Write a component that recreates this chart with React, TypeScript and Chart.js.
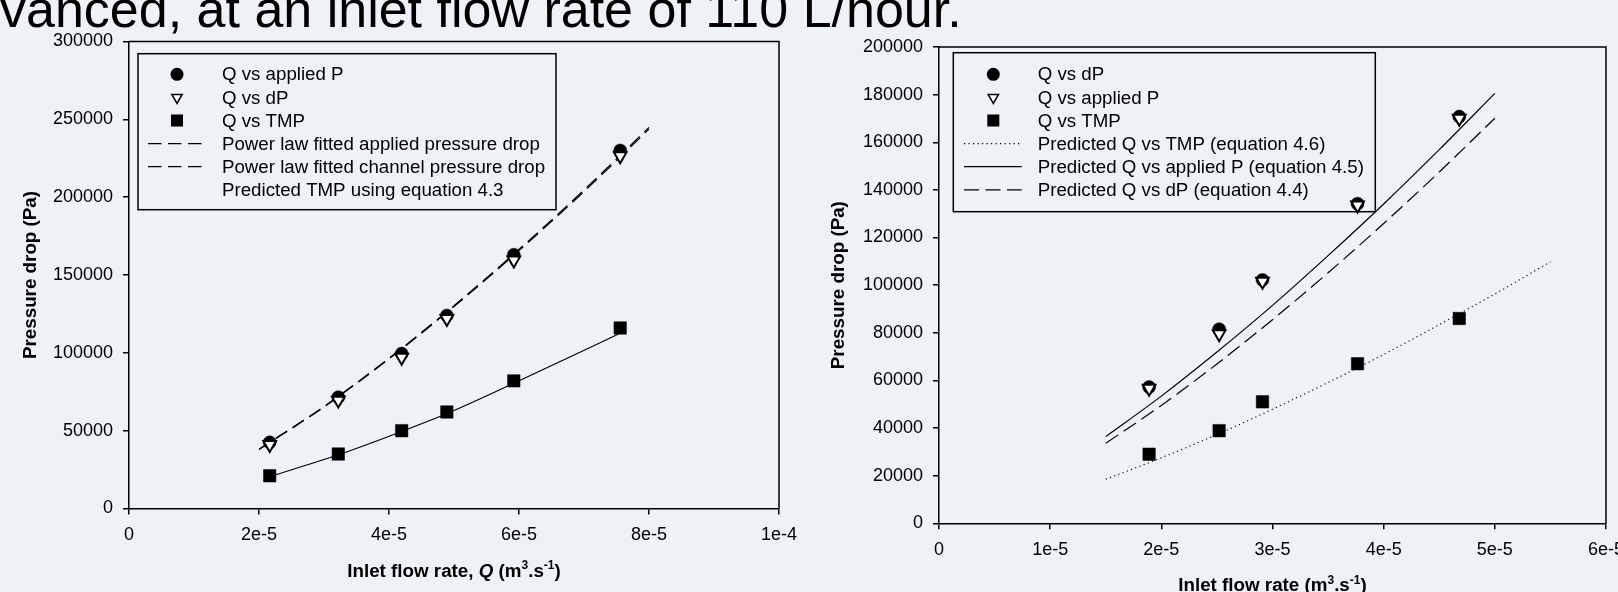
import React, { useEffect, useRef } from 'react';
import { Chart, registerables } from 'chart.js';

Chart.register(...registerables);

const FONT = '"Liberation Sans", Arial, Helvetica, sans-serif';
const BG = '#eef1f6';

// ---------- Heading fragment ----------
const headingText = 'vanced, at an inlet flow rate of 110 L/hour.';

// ---------- Shared ----------
const yAxisTitle = 'Pressure drop (Pa)';

// ---------- Left chart data ----------
const leftQ = [2.165e-5, 3.22e-5, 4.195e-5, 4.89e-5, 5.92e-5, 7.557e-5];
const leftAppliedP = [42500, 71500, 99500, 124000, 163000, 230000];
const leftDP = [41000, 69500, 97000, 122000, 159500, 226500];
const leftTMP = [21000, 35000, 50000, 62000, 82000, 116000];
const leftFitQ = [2e-5, 3e-5, 4e-5, 5e-5, 6e-5, 7e-5, 8e-5];
const leftFitApplied = [38100, 65600, 96600, 130300, 166500, 204600, 244800];
const leftFitChannel = [37900, 65200, 96100, 129700, 165700, 203600, 243700];
const leftPredTMP = [20500, 34500, 49500, 61000, 80500, 112600];
const leftNames = [
  'Q vs applied P',
  'Q vs dP',
  'Q vs TMP',
  'Power law fitted applied pressure drop',
  'Power law fitted channel pressure drop',
  'Predicted TMP using equation 4.3',
];
const leftXTicks = [0, 2e-5, 4e-5, 6e-5, 8e-5, 1e-4];
const leftXTickLabels = ['0', '2e-5', '4e-5', '6e-5', '8e-5', '1e-4'];
const leftYTicks = [0, 50000, 100000, 150000, 200000, 250000, 300000];
const leftYTickLabels = ['0', '50000', '100000', '150000', '200000', '250000', '300000'];
const leftXTitle = [
  { text: 'Inlet flow rate, ' },
  { text: 'Q', italic: true },
  { text: ' (m' },
  { text: '3', sup: true },
  { text: '.s' },
  { text: '-1', sup: true },
  { text: ')' },
];

// ---------- Right chart data ----------
const rightQ = [1.89e-5, 2.52e-5, 2.91e-5, 3.765e-5, 4.68e-5];
const rightDP = [57200, 81500, 102200, 134200, 170800];
const rightAppliedP = [56600, 79500, 101600, 133600, 170000];
const rightTMP = [29000, 38900, 51000, 67000, 86000];
const rightPredQ = [1.5e-5, 2e-5, 2.5e-5, 3e-5, 3.5e-5, 4e-5, 4.5e-5, 5e-5];
const rightPredApplied = [36400, 53400, 71900, 91500, 112400, 134100, 156900, 180500];
const rightPredDP = [33600, 49500, 66900, 85500, 105200, 125900, 147500, 170100];
const rightPredTMPQ = [1.5e-5, 2e-5, 2.5e-5, 3e-5, 3.5e-5, 4e-5, 4.5e-5, 5e-5, 5.5e-5];
const rightPredTMP = [18500, 27500, 37300, 47900, 59100, 70900, 83400, 96300, 109800];
const rightNames = [
  'Q vs dP',
  'Q vs applied P',
  'Q vs TMP',
  'Predicted Q vs TMP (equation 4.6)',
  'Predicted Q vs applied P (equation 4.5)',
  'Predicted Q vs dP (equation 4.4)',
];
const rightXTicks = [0, 1e-5, 2e-5, 3e-5, 4e-5, 5e-5, 6e-5];
const rightXTickLabels = ['0', '1e-5', '2e-5', '3e-5', '4e-5', '5e-5', '6e-5'];
const rightYTicks = [0, 20000, 40000, 60000, 80000, 100000, 120000, 140000, 160000, 180000, 200000];
const rightYTickLabels = ['0', '20000', '40000', '60000', '80000', '100000', '120000', '140000', '160000', '180000', '200000'];
const rightXTitle = [
  { text: 'Inlet flow rate (m' },
  { text: '3', sup: true },
  { text: '.s' },
  { text: '-1', sup: true },
  { text: ')' },
];

// ---------- helpers ----------
const pts = (xs: number[], ys: number[]) => xs.map((x, i) => ({ x, y: ys[i] }));

const TICK_SIZE = 18;
const TITLE_SIZE = 18.8;
const LEGEND_SIZE = 18.7;

function markerDs(label: string, data: any[], kind: string, order: number) {
  const base: any = {
    label,
    data,
    showLine: false,
    order,
    legendKind: kind,
    pointBorderColor: '#000',
    pointHoverBorderColor: '#000',
  };
  if (kind === 'circle') {
    Object.assign(base, {
      pointStyle: 'circle', pointRadius: 6.5, pointHoverRadius: 6.5,
      pointBackgroundColor: '#000', pointHoverBackgroundColor: '#000', pointBorderWidth: 0.5,
    });
  } else if (kind === 'triangle') {
    Object.assign(base, {
      pointStyle: 'triangle', pointRotation: 180, pointRadius: 7.3, pointHoverRadius: 7.3,
      pointBackgroundColor: '#fff', pointHoverBackgroundColor: '#fff', pointBorderWidth: 2,
    });
  } else {
    Object.assign(base, {
      pointStyle: 'rect', pointRadius: 8.8, pointHoverRadius: 8.8,
      pointBackgroundColor: '#000', pointHoverBackgroundColor: '#000', pointBorderWidth: 0.5,
    });
  }
  return base;
}

function lineDs(label: string, data: any[], kind: string, dash: number[], order: number, width = 1.2) {
  return {
    label,
    data,
    showLine: true,
    order,
    legendKind: kind,
    legendDash: dash,
    borderColor: '#000',
    borderWidth: width,
    borderDash: dash,
    pointRadius: 0,
    pointHoverRadius: 0,
    fill: false,
    cubicInterpolationMode: 'monotone',
  };
}

function framePlugin() {
  return {
    id: 'frameBox',
    beforeDatasetsDraw(chart: any) {
      const { ctx, chartArea: a } = chart;
      ctx.save();
      ctx.strokeStyle = '#000';
      ctx.lineWidth = 1.5;
      ctx.beginPath();
      ctx.moveTo(a.left, a.top);
      ctx.lineTo(a.right, a.top);
      ctx.lineTo(a.right, a.bottom);
      ctx.stroke();
      ctx.restore();
    },
  };
}

function legendPlugin(cfg: any) {
  return {
    id: 'boxLegend',
    beforeDatasetsDraw(chart: any) {
      const { ctx, chartArea } = chart;
      const x0 = chartArea.left + cfg.dx;
      const y0 = chartArea.top + cfg.dy;
      ctx.save();
      ctx.strokeStyle = '#000';
      ctx.lineWidth = 1.5;
      ctx.strokeRect(x0, y0, cfg.width, cfg.height);
      ctx.font = `${LEGEND_SIZE}px ${FONT}`;
      ctx.textBaseline = 'middle';
      ctx.textAlign = 'left';
      chart.data.datasets.forEach((ds: any, i: number) => {
        const y = y0 + cfg.firstRow + i * cfg.rowGap;
        const mx = x0 + cfg.markerX;
        const kind = ds.legendKind;
        ctx.setLineDash([]);
        if (kind === 'circle') {
          ctx.fillStyle = '#000';
          ctx.beginPath();
          ctx.arc(mx, y, 6.5, 0, Math.PI * 2);
          ctx.fill();
        } else if (kind === 'triangle') {
          const r = 6;
          ctx.fillStyle = '#fff';
          ctx.strokeStyle = '#000';
          ctx.lineWidth = 1.5;
          ctx.beginPath();
          ctx.moveTo(mx, y + r);
          ctx.lineTo(mx - r * 0.866, y - r / 2);
          ctx.lineTo(mx + r * 0.866, y - r / 2);
          ctx.closePath();
          ctx.fill();
          ctx.stroke();
        } else if (kind === 'square') {
          ctx.fillStyle = '#000';
          ctx.fillRect(mx - 6, y - 6, 12, 12);
        } else if (kind === 'line') {
          ctx.strokeStyle = '#000';
          ctx.lineWidth = ds.borderWidth;
          ctx.setLineDash(ds.legendDash || []);
          ctx.beginPath();
          ctx.moveTo(x0 + cfg.lineX0, y);
          ctx.lineTo(x0 + cfg.lineX1, y);
          ctx.stroke();
          ctx.setLineDash([]);
        }
        ctx.fillStyle = '#000';
        ctx.fillText(ds.label, x0 + cfg.textX, y + 1);
      });
      ctx.restore();
    },
  };
}

function richTitlePlugin(segments: any[], offset: number) {
  return {
    id: 'richXTitle',
    afterDraw(chart: any) {
      const { ctx, chartArea } = chart;
      const fontFor = (s: any) =>
        `${s.italic ? 'italic ' : ''}bold ${s.sup ? 12 : TITLE_SIZE}px ${FONT}`;
      ctx.save();
      const widths = segments.map((s) => {
        ctx.font = fontFor(s);
        return ctx.measureText(s.text).width;
      });
      const total = widths.reduce((a, b) => a + b, 0);
      let x = (chartArea.left + chartArea.right) / 2 - total / 2;
      const by = chartArea.bottom + offset;
      ctx.fillStyle = '#000';
      ctx.textBaseline = 'alphabetic';
      ctx.textAlign = 'left';
      segments.forEach((s, i) => {
        ctx.font = fontFor(s);
        ctx.fillText(s.text, x, by - (s.sup ? 7.5 : 0));
        x += widths[i];
      });
      ctx.restore();
    },
  };
}

function axisOptions(
  ticks: number[],
  labels: string[],
  size: number,
  isX: boolean,
  titlePad: number
) {
  const o: any = {
    type: 'linear',
    min: ticks[0],
    max: ticks[ticks.length - 1],
    afterBuildTicks: (scale: any) => {
      scale.ticks = ticks.map((v) => ({ value: v }));
    },
    afterFit: (scale: any) => {
      if (isX) scale.height = size;
      else scale.width = size;
    },
    ticks: {
      autoSkip: false,
      maxRotation: 0,
      minRotation: 0,
      padding: isX ? 9.5 : 10,
      color: '#000',
      font: { size: TICK_SIZE, family: FONT },
      callback: (_v: any, idx: number) => labels[idx],
    },
    grid: {
      display: true,
      drawOnChartArea: false,
      drawTicks: true,
      tickLength: 6,
      color: '#000',
      lineWidth: 1.5,
    },
    border: { display: true, color: '#000', width: 1.5 },
  };
  if (!isX) {
    o.title = {
      display: true,
      text: yAxisTitle,
      color: '#000',
      font: { size: TITLE_SIZE, weight: 'bold', family: FONT },
      padding: { top: titlePad, bottom: 0 },
    };
  }
  return o;
}

function useChart(ref: any, config: any) {
  useEffect(() => {
    if (!ref.current) return;
    const chart = new Chart(ref.current, config);
    return () => chart.destroy();
  }, []);
}

function LeftChart() {
  const ref = useRef<HTMLCanvasElement>(null);
  useChart(ref, {
    type: 'scatter',
    data: {
      datasets: [
        markerDs(leftNames[0], pts(leftQ, leftAppliedP), 'circle', 2),
        markerDs(leftNames[1], pts(leftQ, leftDP), 'triangle', 1),
        markerDs(leftNames[2], pts(leftQ, leftTMP), 'square', 3),
        lineDs(leftNames[3], pts(leftFitQ, leftFitApplied), 'line', [13.5, 6.5], 10),
        lineDs(leftNames[4], pts(leftFitQ, leftFitChannel), 'line', [13.5, 6.5], 11),
        { ...lineDs(leftNames[5], pts(leftQ, leftPredTMP), 'none', [], 12), legendKind: 'none' },
      ],
    },
    options: {
      responsive: false,
      animation: false,
      events: [],
      layout: { padding: { left: 0, top: 41.5, right: 30, bottom: 0 } },
      plugins: { legend: { display: false }, tooltip: { enabled: false } },
      scales: {
        x: axisOptions(leftXTicks, leftXTickLabels, 83.5, true, 0),
        y: axisOptions(leftYTicks, leftYTickLabels, 129, false, 20),
      },
    },
    plugins: [
      framePlugin(),
      legendPlugin({
        dx: 9, dy: 12.2, width: 418, height: 156,
        firstRow: 20.6, rowGap: 23.1, markerX: 39, textX: 84, lineX0: 10, lineX1: 63.5,
      }),
      richTitlePlugin(leftXTitle, 68),
    ],
  });
  return (
    <canvas
      ref={ref}
      width={809}
      height={592}
      style={{ position: 'absolute', left: 0, top: 0, width: 809, height: 592 }}
    />
  );
}

function RightChart() {
  const ref = useRef<HTMLCanvasElement>(null);
  useChart(ref, {
    type: 'scatter',
    data: {
      datasets: [
        markerDs(rightNames[0], pts(rightQ, rightDP), 'circle', 2),
        markerDs(rightNames[1], pts(rightQ, rightAppliedP), 'triangle', 1),
        markerDs(rightNames[2], pts(rightQ, rightTMP), 'square', 3),
        lineDs(rightNames[3], pts(rightPredTMPQ, rightPredTMP), 'line', [1.2, 3.3], 10, 1.1),
        lineDs(rightNames[4], pts(rightPredQ, rightPredApplied), 'line', [], 11),
        lineDs(rightNames[5], pts(rightPredQ, rightPredDP), 'line', [15, 6.5], 12),
      ],
    },
    options: {
      responsive: false,
      animation: false,
      events: [],
      layout: { padding: { left: 0, top: 47, right: 43, bottom: 0 } },
      plugins: { legend: { display: false }, tooltip: { enabled: false } },
      scales: {
        x: axisOptions(rightXTicks, rightXTickLabels, 68.7, true, 0),
        y: axisOptions(rightYTicks, rightYTickLabels, 130, false, 18.7),
      },
    },
    plugins: [
      framePlugin(),
      legendPlugin({
        dx: 14.3, dy: 5.7, width: 422, height: 159,
        firstRow: 21.6, rowGap: 23.1, markerX: 40, textX: 84.4, lineX0: 10.7, lineX1: 68.4,
      }),
      richTitlePlugin(rightXTitle, 67.7),
    ],
  });
  return (
    <canvas
      ref={ref}
      width={840}
      height={592}
      style={{ position: 'absolute', left: 809, top: 0, width: 840, height: 592 }}
    />
  );
}

export default function App() {
  return (
    <div
      style={{
        position: 'fixed',
        left: 0,
        top: 0,
        width: 1618,
        height: 592,
        overflow: 'hidden',
        background: BG,
      }}
    >
      <div
        style={{
          position: 'absolute',
          left: 0,
          top: -17.5,
          fontFamily: FONT,
          fontSize: 52,
          lineHeight: '52px',
          whiteSpace: 'nowrap',
          color: '#000',
        }}
      >
        {headingText}
      </div>
      <LeftChart />
      <RightChart />
    </div>
  );
}
